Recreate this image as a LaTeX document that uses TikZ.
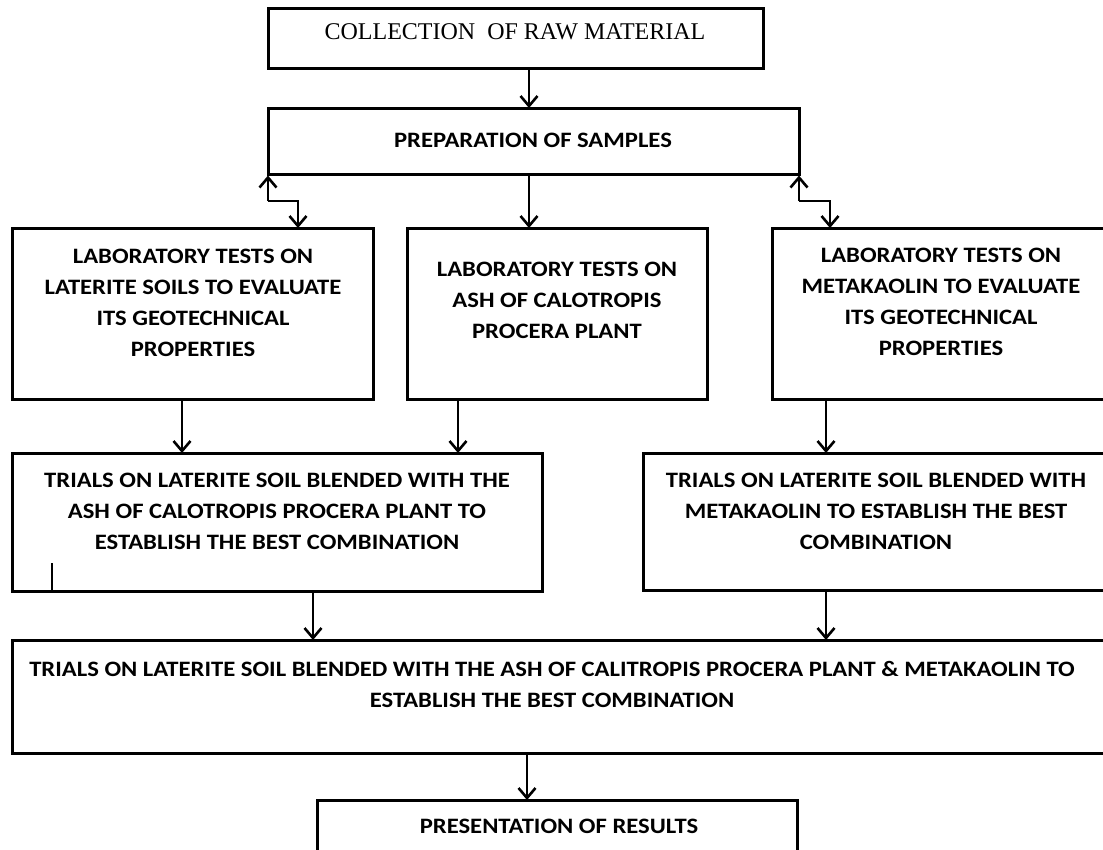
\documentclass[tikz,border=0pt]{standalone}
\usepackage{fontspec}
\setmainfont{Carlito}[FakeStretch=1.12]
\newfontfamily\timesfont{Liberation Serif}
\usetikzlibrary{arrows.meta}
\tikzset{
  x=1pt, y=-1pt,
  box/.style={draw=black, line width=3pt, rectangle, inner sep=0pt, outer sep=0pt},
  lbl/.style={align=center, inner sep=0pt, font=\bfseries\fontsize{22}{31}\selectfont},
  arr/.style={line width=2.6pt, -{Straight Barb[length=10pt,width=17pt,line width=2.6pt]}},
  ln/.style={line width=2.6pt},
}
\newcommand{\boxnode}[5]{%
  \node[box, minimum width={(#4)-(#2)}, minimum height={(#5)-(#3)}] (#1) at ({((#2)+(#4))/2},{((#3)+(#5))/2}) {};}
\begin{document}
\begin{tikzpicture}
\useasboundingbox (0,0) rectangle (1103,849);
\clip (0,0) rectangle (1103,849);
\fill[white] (0,0) rectangle (1103,849);
% boxes
\boxnode{b1}{268}{8}{763}{68}
\boxnode{b2}{268}{108}{799}{174}
\boxnode{bL}{12}{228}{373}{399}
\boxnode{bM}{407}{228}{707}{399}
\boxnode{bR}{772}{228}{1112}{399}
\boxnode{bTL}{12}{453}{542}{591}
\boxnode{bTR}{643}{453}{1112}{590}
\boxnode{bF}{12}{640}{1112}{753}
\boxnode{bP}{317}{800}{797}{905}
% texts
\node[inner sep=0pt, font=\timesfont\fontsize{24}{28}\selectfont] (t1) at (515,32) {COLLECTION\ \ OF RAW MATERIAL};
\node[lbl] (t2) at (533,140) {PREPARATION OF SAMPLES};
\node[lbl] (tL) at (193,303) {LABORATORY TESTS ON\\LATERITE SOILS TO EVALUATE\\ITS GEOTECHNICAL\\PROPERTIES};
\node[lbl] (tM) at (557,300) {LABORATORY TESTS ON\\ASH OF CALOTROPIS\\PROCERA PLANT};
\node[lbl] (tR) at (941,302) {LABORATORY TESTS ON\\METAKAOLIN TO EVALUATE\\ITS GEOTECHNICAL\\PROPERTIES};
\node[lbl] (tTL) at (277,511) {TRIALS ON LATERITE SOIL BLENDED WITH THE\\ASH OF CALOTROPIS PROCERA PLANT TO\\ESTABLISH THE BEST COMBINATION};
\node[lbl] (tTR) at (876,511) {TRIALS ON LATERITE SOIL BLENDED WITH\\METAKAOLIN TO ESTABLISH THE BEST\\COMBINATION};
\node[lbl] (tF) at (552,684) {TRIALS ON LATERITE SOIL BLENDED WITH THE ASH OF CALITROPIS PROCERA PLANT \& METAKAOLIN TO\\ESTABLISH THE BEST COMBINATION};
\node[lbl] (tP) at (559,826) {PRESENTATION OF RESULTS};
% connector x positions
\coordinate (xA) at (529,0);
\coordinate (xL) at (182,0);
\coordinate (xM) at (458,0);
\coordinate (xR) at (826,0);
\coordinate (xTL) at (313,0);
\coordinate (xF) at (527,0);
\coordinate (zL) at (298,201);
\coordinate (zR) at (830,201);
% arrows
\draw[arr] (b1.south -| xA) -- (b2.north -| xA);
\draw[arr] (b2.south -| xA) -- (bM.north -| xA);
\draw[arr] (bL.south -| xL) -- (bTL.north -| xL);
\draw[arr] (bM.south -| xM) -- (bTL.north -| xM);
\draw[arr] (bR.south -| xR) -- (bTR.north -| xR);
\draw[arr] (bTL.south -| xTL) -- (bF.north -| xTL);
\draw[arr] (bTR.south -| xR) -- (bF.north -| xR);
\draw[arr] (bF.south -| xF) -- (bP.north -| xF);
% zig-zag connectors
\draw[arr] (zL -| b2.south west) -- ([yshift=-1.5pt]b2.south west);
\draw[arr, line join=miter] (zL -| b2.south west) -- (zL) -- (bL.north -| zL);
\draw[arr] (zR -| b2.south east) -- ([yshift=-1.5pt]b2.south east);
\draw[arr, line join=miter] (zR -| b2.south east) -- (zR) -- (bR.north -| zR);
% small tick in lower left box
\coordinate (tk) at (52,563);
\draw[ln] (tk) -- (tk |- bTL.south);
\end{tikzpicture}
\end{document}
